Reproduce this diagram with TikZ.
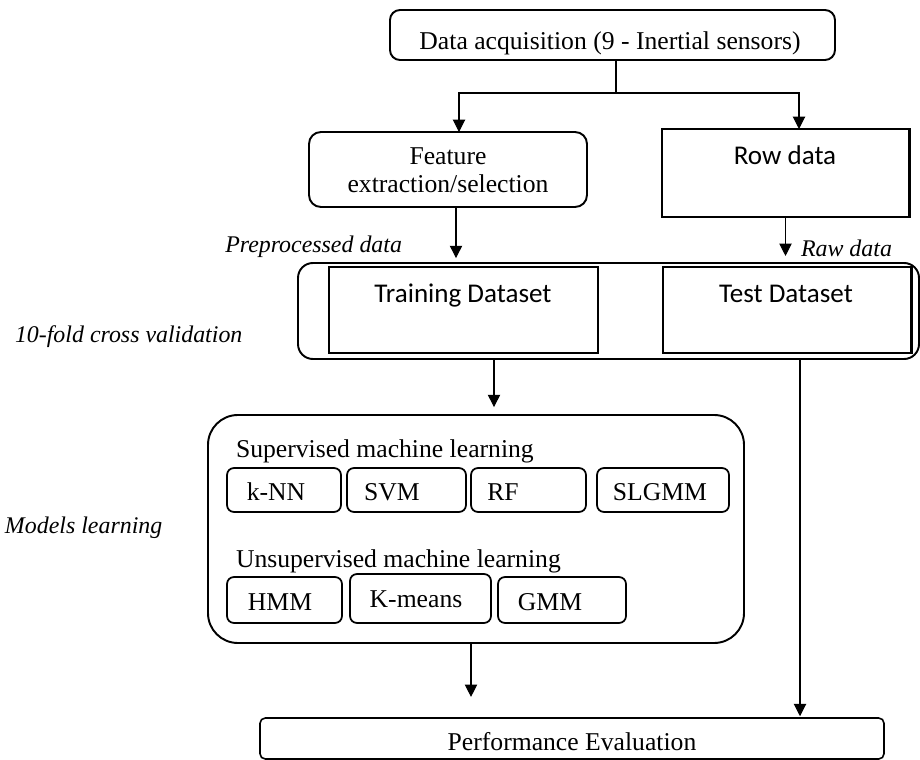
\documentclass[tikz,border=0pt]{standalone}
\usepackage{fontspec}
\setmainfont{Liberation Serif}
\newfontfamily\calfont{Carlito}
\usetikzlibrary{calc,arrows.meta}
\newcommand\pxu{0.02cm}
\newcommand\serifsz{\fontsize{14.6pt}{17pt}\selectfont}
\newcommand\itsz{\fontsize{13.6pt}{16pt}\selectfont\itshape}
\newcommand\calsz{\fontsize{15.4pt}{18pt}\selectfont\calfont}
\begin{document}
\begin{tikzpicture}[x=0.02cm,y=-0.02cm,
  every node/.style={inner sep=0pt,outer sep=0pt},
  sized/.style 2 args={minimum width=#1*\pxu,minimum height=#2*\pxu},
  box/.style={draw,line width=1.1pt},
  thick box/.style={draw,line width=1.7pt},
  small box/.style={draw,line width=1pt,rounded corners=4pt},
  txt/.style={font=\serifsz,anchor=base},
  lbl/.style={font=\itsz,anchor=base west},
  ctxt/.style={font=\calsz,anchor=base},
  arr/.style={line width=0.6pt,-{Triangle[length=7pt,width=7pt]}},
  line/.style={line width=0.6pt}]
\useasboundingbox (0,0) rectangle (920,760);

% top: acquisition
\node[box,sized={445}{50},rounded corners=5.7pt] (acq) at (612.5,35) {};
\node[txt] (tacq) at (610,50) {Data acquisition (9 - Inertial sensors)};

% second row
\node[box,sized={278}{75},rounded corners=6.8pt] (feat) at (448,169.5) {};
\node[txt] (tfeat1) at (448,165) {Feature};
\node[txt] (tfeat2) at (448,193) {extraction/selection};
\node[thick box,sized={247}{88}] (rowd) at (785.5,173) {};
\node[ctxt] (trowd) at (785,165) {Row data};

% datasets
\node[box,sized={621}{96},rounded corners=8.5pt] (outer) at (608.5,311) {};
\node[thick box,sized={269}{86}] (train) at (463.5,310) {};
\node[ctxt] (ttrain) at (463,303) {Training Dataset};
\node[thick box,sized={248}{86}] (test) at (787,310) {};
\node[ctxt] (ttest) at (786,303) {Test Dataset};

% side labels
\node[lbl,anchor=base east] (lpre) at (402,253) {Preprocessed data};
\node[lbl] (lraw) at (801,257) {Raw data};
\node[lbl] (lcv) at (15,342) {10-fold cross validation};
\node[lbl] (lml) at (5,533) {Models learning};

% models
\node[box,sized={536}{228},rounded corners=17pt] (models) at (476,529) {};
\node[txt,anchor=base west] (tsup) at (236,457) {Supervised machine learning};
\node[small box,sized={114}{44}] (knn) at (284,490) {};
\node[small box,sized={119}{44}] (svm) at (406.5,490) {};
\node[small box,sized={115}{44}] (rf) at (528.5,490) {};
\node[small box,sized={132}{44}] (slg) at (663,490) {};
\node[txt] (tknn) at (276,500) {k-NN};
\node[txt] (tsvm) at (392,500) {SVM};
\node[txt] (trf) at (503,500) {RF};
\node[txt] (tslg) at (660,500) {SLGMM};
\node[txt,anchor=base west] (tuns) at (236,567) {Unsupervised machine learning};
\node[small box,sized={115}{46}] (hmm) at (284.5,600) {};
\node[small box,sized={141}{49}] (kmn) at (420.5,598.5) {};
\node[small box,sized={128}{46}] (gmm) at (562,600) {};
\node[txt] (thmm) at (280,610) {HMM};
\node[txt] (tkmn) at (416,607) {K-means};
\node[txt] (tgmm) at (550,610) {GMM};

% evaluation
\node[box,sized={624}{41},line width=0.9pt,rounded corners=3pt] (perf) at (572,738.5) {};
\node[txt] (tperf) at (572,750) {Performance Evaluation};

% connector start points
\coordinate (br) at (616,93);
\coordinate (fdown) at ($(feat.south)+(8,0)$);
\coordinate (tdown) at ($(outer.south)+(-114.5,0)$);
\coordinate (edown) at ($(outer.south)+(191.5,0)$);
\coordinate (mdown) at ($(models.south)+(-5,0)$);
\coordinate (fin) at ($(feat.north)+(11,0)$);
\coordinate (rin) at ($(rowd.north)+(13.5,0)$);

% connectors
\draw[line] (acq.south -| br) -- (br);
\draw[arr] (br) -| (fin);
\draw[arr] (br) -| (rin);
\draw[arr,shorten >=2.8pt] (fdown) -- (fdown |- outer.north);
\draw[arr,shorten >=4pt] (rowd.south) -- (rowd.south |- outer.north);
\draw[arr,shorten >=4.5pt] (tdown) -- (tdown |- models.north);
\draw[arr,shorten >=1pt] (edown) -- (edown |- perf.north);
\draw[arr,shorten >=12pt] (mdown) -- (mdown |- perf.north);
\end{tikzpicture}
\end{document}
